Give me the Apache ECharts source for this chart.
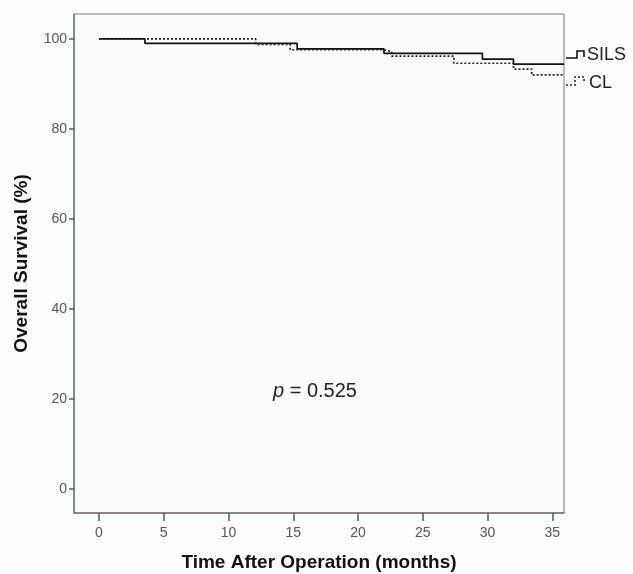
<!DOCTYPE html>
<html>
<head>
<meta charset="utf-8">
<script src="https://cdn.jsdelivr.net/npm/echarts@6/dist/echarts.min.js"></script>
<style>
  html, body { margin: 0; padding: 0; background: #fdfdfd; }
  #chart { width: 633px; height: 574px; }
</style>
</head>
<body>
<div id="chart"></div>
<script>
// Kaplan-Meier steps: [months, survival %]
const silsTimes = [0, 3.55, 15.3, 22.0, 29.6, 32.0, 35.9];
const silsSurv  = [100, 99.0, 97.8, 96.8, 95.5, 94.4, 94.4];
const clTimes   = [0, 12.1, 14.76, 22.0, 22.6, 27.4, 32.0, 33.4, 35.9];
const clSurv    = [100, 98.8, 97.6, 97.2, 96.2, 94.6, 93.3, 92.0, 92.0];
const xTicks = [0, 5, 10, 15, 20, 25, 30, 35];
const yTicks = [0, 20, 40, 60, 80, 100];

const font = '"Liberation Sans", Arial, sans-serif';
const pairs = (ts, vs) => ts.map((t, i) => [t, vs[i]]);

const chart = echarts.init(document.getElementById('chart'));
chart.setOption({
  backgroundColor: '#fdfdfd',
  animation: false,
  textStyle: { fontFamily: font },
  grid: {
    left: 74, top: 14, right: 69, bottom: 61,
    outerBoundsMode: 'none', containLabel: false,
    show: true, borderColor: '#6f7a80', borderWidth: 1, backgroundColor: '#fcfcfc'
  },
  xAxis: {
    type: 'value',
    min: -1.93, max: 35.9,
    name: 'Time After Operation (months)',
    nameLocation: 'middle', nameGap: 40,
    nameTextStyle: { fontSize: 19, fontWeight: 'bold', color: '#111', fontFamily: font },
    axisLine: { show: true, onZero: false, lineStyle: { color: '#6f7a80', width: 1.5 } },
    axisTick: { show: true, length: 8, customValues: xTicks, lineStyle: { color: '#4f5a60', width: 1.5 } },
    axisLabel: { customValues: xTicks, color: '#555', fontSize: 14, margin: 13, fontFamily: font },
    splitLine: { show: false }
  },
  yAxis: {
    type: 'value',
    min: -5.4, max: 105.55,
    name: 'Overall Survival (%)',
    nameLocation: 'middle', nameGap: 43, nameRotate: 90,
    nameTextStyle: { fontSize: 19, fontWeight: 'bold', color: '#111', fontFamily: font },
    axisLine: { show: true, onZero: false, lineStyle: { color: '#6f7a80', width: 1.5 } },
    axisTick: { show: true, length: 5, customValues: yTicks, lineStyle: { color: '#4f5a60', width: 1.5 } },
    axisLabel: { customValues: yTicks, color: '#555', fontSize: 14, margin: 7, fontFamily: font },
    splitLine: { show: false }
  },
  series: [
    {
      name: 'SILS', type: 'line', step: 'end', symbol: 'none',
      data: pairs(silsTimes, silsSurv),
      lineStyle: { color: '#111', width: 1.7 }
    },
    {
      name: 'CL', type: 'line', step: 'end', symbol: 'none',
      data: pairs(clTimes, clSurv),
      lineStyle: { color: '#222', width: 1.7, type: [2, 2] }
    }
  ],
  graphic: [
    { type: 'polyline', shape: { points: [[566, 58], [577, 58], [577, 51], [584, 51], [584, 57]] },
      style: { stroke: '#111', lineWidth: 1.6, fill: null } },
    { type: 'text', left: 587, top: 46,
      style: { text: 'SILS', fontSize: 18, fill: '#222', fontFamily: font } },
    { type: 'polyline', shape: { points: [[566, 85], [575, 85], [575, 77], [584, 77], [584, 83]] },
      style: { stroke: '#222', lineWidth: 1.6, fill: null, lineDash: [2, 2] } },
    { type: 'text', left: 589, top: 74,
      style: { text: 'CL', fontSize: 18, fill: '#222', fontFamily: font } },
    { type: 'text', left: 273, top: 381,
      style: {
        text: '{i|p} = 0.525',
        fontSize: 20, fill: '#222', fontFamily: font,
        rich: { i: { fontStyle: 'italic', fontSize: 20, fontFamily: font } }
      } }
  ]
});
</script>
</body>
</html>
